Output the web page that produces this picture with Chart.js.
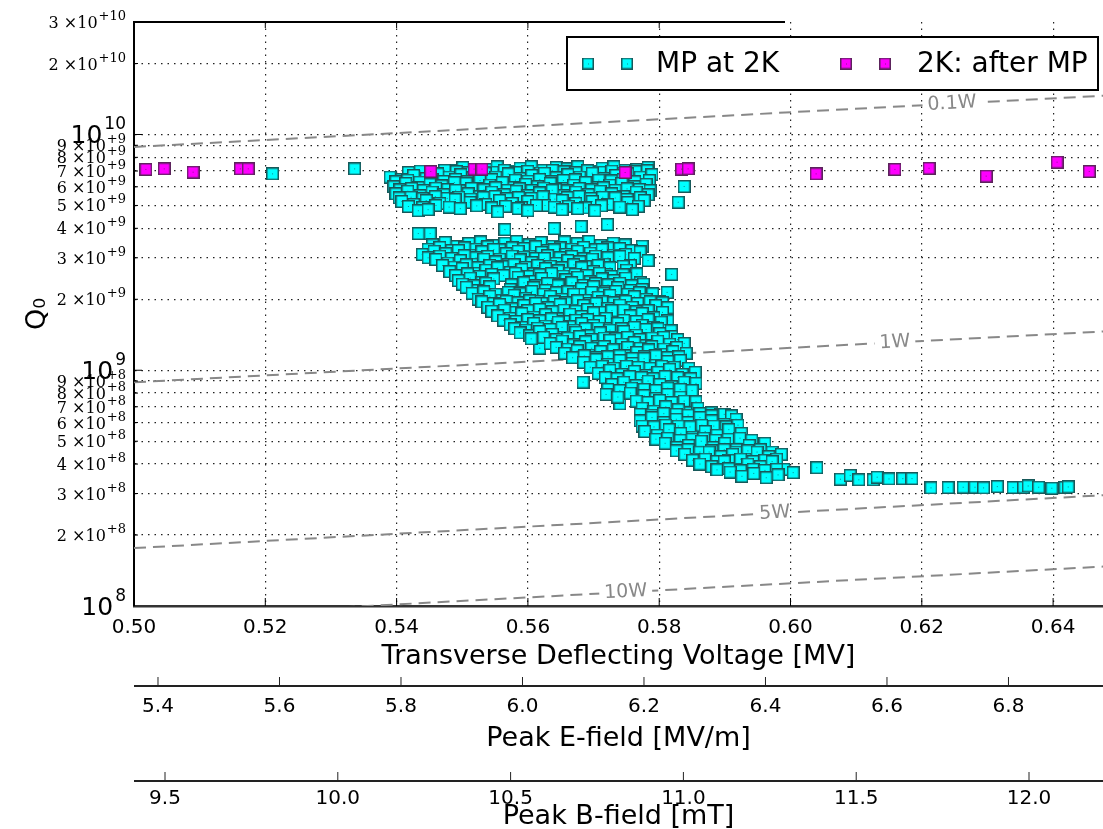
<!DOCTYPE html>
<html>
<head>
<meta charset="utf-8">
<title>Q0 vs transverse deflecting voltage</title>
<script src="https://cdn.jsdelivr.net/npm/chart.js@4.4.1/dist/chart.umd.min.js"></script>
<style>
  html, body { margin: 0; padding: 0; background: #fff; overflow: hidden; }
  #wrap { width: 1103px; height: 829px; }
  canvas { display: block; }
</style>
</head>
<body>
<div id="wrap"><canvas id="q0Chart" width="1103" height="829"></canvas></div>
<script>
// ---- axes ----
const voltageTicks = [0.50, 0.52, 0.54, 0.56, 0.58, 0.60, 0.62, 0.64];
const eFieldTicks = [5.4, 5.6, 5.8, 6.0, 6.2, 6.4, 6.6, 6.8];
const bFieldTicks = [9.5, 10.0, 10.5, 11.0, 11.5, 12.0];
const q0Ticks = [1e8, 2e8, 3e8, 4e8, 5e8, 6e8, 7e8, 8e8, 9e8,
                 1e9, 2e9, 3e9, 4e9, 5e9, 6e9, 7e9, 8e9, 9e9,
                 1e10, 2e10, 3e10];
const voltageRange = [0.50, 0.6476];
const eFieldRange = [5.3605, 6.9556];
const bFieldRange = [9.4103, 12.2141];
const q0Range = [1e8, 3e10];

// ---- constant dissipated power lines ----
const powerLabels = ['0.1W', '1W', '5W', '10W'];
const powerLineV = [0.50, 0.6476];
const powerLineQ = [[8.85e9, 1.46e10], [8.89e8, 1.46e9], [1.76e8, 2.95e8], [8.85e7, 1.47e8]];
const powerLabelV = [0.6246, 0.6159, 0.5976, 0.5749];

// ---- measurements: [voltage MV, Q0 / 1e9] ----
const afterMP = [
  [0.5018, 7.11], [0.5046, 7.15], [0.5090, 6.92], [0.5162, 7.15], [0.5174, 7.15],
  [0.5452, 6.97], [0.5518, 7.13], [0.5530, 7.13], [0.5748, 6.90], [0.5834, 7.13],
  [0.5844, 7.15], [0.6039, 6.81], [0.6159, 7.11], [0.6211, 7.19], [0.6298, 6.66],
  [0.6406, 7.63], [0.6455, 6.97]
];

const mpUpperBand = [
  [0.5484,7.05],[0.5501,7.25],[0.5536,7.10],[0.5553,7.30],[0.5571,7.00],[0.5588,7.20],[0.5605,7.30],[0.5623,7.05],
  [0.5643,7.25],[0.5660,7.15],[0.5676,7.30],[0.5695,7.00],[0.5713,7.20],[0.5731,7.30],[0.5748,7.05],[0.5766,7.10],[0.5783,7.25],
  [0.5418,6.90],[0.5436,7.00],[0.5455,6.85],[0.5473,7.05],[0.5491,6.95],[0.5509,6.88],[0.5527,7.02],[0.5546,6.92],
  [0.5564,7.05],[0.5582,6.90],[0.5600,6.98],[0.5619,6.86],[0.5637,7.04],[0.5655,6.94],[0.5673,6.88],[0.5691,7.02],
  [0.5710,6.92],[0.5728,7.00],[0.5746,6.86],[0.5764,6.96],[0.5782,7.02],
  [0.5390,6.60],[0.5408,6.45],[0.5426,6.70],[0.5445,6.50],[0.5463,6.80],[0.5480,6.60],[0.5498,6.75],[0.5516,6.55],
  [0.5535,6.85],[0.5551,6.60],[0.5570,6.80],[0.5588,6.50],[0.5606,6.70],[0.5625,6.85],[0.5643,6.55],[0.5661,6.75],
  [0.5679,6.60],[0.5698,6.85],[0.5716,6.50],[0.5734,6.70],[0.5752,6.80],[0.5771,6.60],[0.5789,6.75],
  [0.5399,6.30],[0.5417,6.40],[0.5435,6.28],[0.5454,6.42],[0.5472,6.32],[0.5490,6.45],[0.5508,6.30],[0.5527,6.38],
  [0.5545,6.44],[0.5563,6.28],[0.5581,6.40],[0.5600,6.34],[0.5618,6.45],[0.5636,6.30],[0.5654,6.38],[0.5672,6.42],
  [0.5690,6.28],[0.5708,6.40],[0.5727,6.35],[0.5745,6.44],[0.5763,6.30],[0.5785,6.38],
  [0.5396,6.00],[0.5414,6.20],[0.5433,5.95],[0.5451,6.15],[0.5469,6.05],[0.5488,6.25],[0.5506,6.20],[0.5524,5.90],
  [0.5542,6.10],[0.5561,6.25],[0.5579,5.95],[0.5597,6.15],[0.5615,6.00],[0.5634,6.20],[0.5652,5.90],[0.5670,6.10],
  [0.5688,6.25],[0.5707,5.95],[0.5725,6.10],[0.5743,6.20],[0.5762,6.00],[0.5780,6.15],
  [0.5405,5.82],[0.5423,5.90],[0.5441,5.78],[0.5460,5.92],[0.5478,5.84],[0.5496,5.76],[0.5514,5.90],[0.5533,5.82],
  [0.5551,5.94],[0.5569,5.80],[0.5587,5.88],[0.5606,5.78],[0.5624,5.92],[0.5642,5.84],[0.5660,5.76],[0.5678,5.90],
  [0.5697,5.82],[0.5715,5.94],[0.5733,5.80],[0.5751,5.88],[0.5770,5.84],[0.5786,5.78],
  [0.5399,5.60],[0.5417,5.75],[0.5436,5.50],[0.5454,5.70],[0.5472,5.55],[0.5490,5.80],[0.5509,5.60],[0.5527,5.45],
  [0.5545,5.70],[0.5564,5.55],[0.5582,5.75],[0.5600,5.50],[0.5618,5.65],[0.5637,5.80],[0.5655,5.50],[0.5673,5.70],
  [0.5692,5.55],[0.5710,5.75],[0.5728,5.60],[0.5746,5.45],[0.5765,5.70],[0.5783,5.55],
  [0.5404,5.38],[0.5422,5.42],[0.5440,5.34],[0.5459,5.45],[0.5477,5.36],[0.5495,5.42],[0.5513,5.32],[0.5532,5.40],
  [0.5550,5.46],[0.5568,5.34],[0.5586,5.40],[0.5605,5.36],[0.5623,5.44],[0.5641,5.32],[0.5660,5.40],[0.5678,5.46],
  [0.5696,5.35],[0.5714,5.42],[0.5733,5.38],[0.5751,5.30],[0.5771,5.40],
  [0.5408,5.20],[0.5426,5.05],[0.5445,5.25],[0.5466,5.10],[0.5489,5.30],[0.5512,5.15],[0.5536,5.05],[0.5557,5.25],
  [0.5576,5.10],[0.5600,5.20],[0.5626,5.00],[0.5652,5.25],[0.5673,5.10],[0.5698,5.20],[0.5722,5.05],[0.5752,5.15],[0.5777,5.25],
  [0.5418,4.95],[0.5440,4.90],[0.5460,5.00],[0.5480,4.92],[0.5522,4.98],[0.5545,4.88],[0.5566,4.96],[0.5590,4.90],
  [0.5613,5.00],[0.5640,4.92],[0.5662,4.96],[0.5688,4.88],[0.5712,4.98],[0.5740,4.92],[0.5768,4.96],
  [0.5433,4.75],[0.5448,4.80],[0.5497,4.85],[0.5554,4.70],[0.5585,4.85],[0.5600,4.75],[0.5652,4.80],[0.5676,4.85],
  [0.5702,4.75],[0.5759,4.80]
];

const mpStray = [
  [0.5211,6.81],[0.5336,7.15],[0.5838,6.02],[0.5829,5.16],[0.5433,3.80],[0.5451,3.80],[0.5565,3.95],
  [0.5640,3.99],[0.5681,4.07],[0.5721,4.15],[0.5756,3.02],[0.5618,1.24],[0.5684,0.89],[0.5740,0.72]
];

const mpLowerBand = [
  [0.5455,3.40],[0.5474,3.48],[0.5492,3.35],[0.5510,3.45],[0.5528,3.50],[0.5547,3.38],[0.5565,3.46],[0.5583,3.52],
  [0.5602,3.40],[0.5620,3.48],[0.5638,3.36],[0.5656,3.50],[0.5675,3.44],[0.5693,3.52],[0.5711,3.38],[0.5730,3.46],
  [0.5748,3.40],[0.5774,3.36],
  [0.5448,3.26],[0.5466,3.32],[0.5484,3.22],[0.5503,3.30],[0.5521,3.26],[0.5539,3.34],[0.5557,3.24],[0.5576,3.30],
  [0.5594,3.28],[0.5612,3.34],[0.5630,3.22],[0.5649,3.30],[0.5667,3.26],[0.5685,3.32],[0.5703,3.24],[0.5722,3.30],
  [0.5740,3.28],[0.5758,3.22],
  [0.5439,3.10],[0.5457,3.20],[0.5475,3.12],[0.5494,3.22],[0.5512,3.08],[0.5530,3.18],[0.5548,3.25],[0.5567,3.12],
  [0.5585,3.20],[0.5603,3.05],[0.5621,3.16],[0.5640,3.24],[0.5658,3.10],[0.5676,3.20],[0.5695,3.14],[0.5713,3.25],
  [0.5731,3.08],[0.5749,3.10],[0.5771,3.18],
  [0.5448,3.00],[0.5466,3.05],[0.5484,2.98],[0.5503,3.06],[0.5521,3.00],[0.5539,3.04],[0.5557,2.96],[0.5576,3.05],
  [0.5594,3.02],[0.5612,2.98],[0.5630,3.06],[0.5649,3.00],[0.5667,3.04],[0.5685,2.97],[0.5703,3.05],[0.5722,3.00],
  [0.5740,3.04],[0.5762,2.98],
  [0.5460,2.95],[0.5478,2.85],[0.5497,2.92],[0.5515,2.82],[0.5533,2.96],[0.5551,2.88],[0.5570,2.80],[0.5588,2.94],
  [0.5606,2.86],[0.5625,2.98],[0.5643,2.84],[0.5661,2.92],[0.5679,2.88],[0.5698,2.96],[0.5716,2.82],[0.5756,2.78],[0.5783,2.92],
  [0.5470,2.78],[0.5488,2.74],[0.5506,2.80],[0.5524,2.72],[0.5542,2.78],[0.5561,2.75],[0.5579,2.80],[0.5597,2.73],
  [0.5615,2.78],[0.5634,2.76],[0.5652,2.72],[0.5670,2.80],[0.5688,2.75],[0.5707,2.78],[0.5725,2.72],[0.5745,2.76],
  [0.5481,2.62],[0.5500,2.70],[0.5518,2.58],[0.5536,2.66],[0.5554,2.72],[0.5573,2.60],[0.5591,2.68],[0.5609,2.56],
  [0.5627,2.70],[0.5646,2.64],[0.5664,2.58],[0.5682,2.72],[0.5700,2.62],[0.5720,2.55],[0.5750,2.66],[0.5819,2.55],
  [0.5490,2.52],[0.5508,2.56],[0.5527,2.50],[0.5545,2.55],[0.5563,2.52],[0.5581,2.58],[0.5600,2.50],[0.5618,2.54],
  [0.5636,2.57],[0.5654,2.51],[0.5672,2.55],[0.5690,2.52],[0.5709,2.58],[0.5727,2.50],[0.5745,2.54],[0.5766,2.56],
  [0.5494,2.40],[0.5512,2.46],[0.5530,2.36],[0.5548,2.44],[0.5585,2.48],[0.5603,2.38],[0.5621,2.45],[0.5640,2.34],
  [0.5658,2.42],[0.5676,2.48],[0.5695,2.37],[0.5713,2.44],[0.5731,2.40],[0.5749,2.46],[0.5771,2.35],
  [0.5500,2.32],[0.5518,2.28],[0.5536,2.34],[0.5575,2.30],[0.5594,2.35],[0.5612,2.28],[0.5630,2.33],[0.5649,2.30],
  [0.5667,2.35],[0.5685,2.29],[0.5703,2.33],[0.5722,2.30],[0.5740,2.34],[0.5758,2.28],[0.5776,2.32],
  [0.5506,2.25],[0.5524,2.18],[0.5542,2.26],[0.5573,2.20],[0.5591,2.14],[0.5609,2.24],[0.5627,2.18],[0.5646,2.28],
  [0.5664,2.16],[0.5682,2.22],[0.5700,2.26],[0.5719,2.15],[0.5737,2.24],[0.5756,2.18],[0.5774,2.20],[0.5812,2.14],
  [0.5515,2.12],[0.5533,2.15],[0.5551,2.10],[0.5570,2.14],[0.5588,2.11],[0.5606,2.16],[0.5624,2.10],[0.5643,2.13],
  [0.5661,2.15],[0.5679,2.10],[0.5697,2.14],[0.5716,2.12],[0.5734,2.16],[0.5752,2.10],[0.5770,2.13],[0.5790,2.11],
  [0.5524,2.00],[0.5542,2.06],[0.5561,1.98],[0.5579,2.08],[0.5597,2.02],[0.5615,1.96],[0.5634,2.06],[0.5652,2.00],
  [0.5670,2.10],[0.5688,1.98],[0.5707,2.04],[0.5725,2.08],[0.5743,1.97],[0.5762,2.05],[0.5780,2.00],[0.5801,1.95],
  [0.5530,1.95],[0.5548,1.92],[0.5567,1.96],[0.5585,1.93],[0.5603,1.97],[0.5621,1.92],[0.5640,1.95],[0.5658,1.93],
  [0.5676,1.97],[0.5694,1.92],[0.5713,1.95],[0.5731,1.93],[0.5749,1.96],[0.5767,1.92],[0.5786,1.95],[0.5805,1.93],
  [0.5539,1.85],[0.5557,1.90],[0.5576,1.82],[0.5594,1.88],[0.5612,1.92],[0.5631,1.84],[0.5649,1.90],[0.5667,1.80],
  [0.5685,1.88],[0.5704,1.92],[0.5722,1.83],[0.5740,1.89],[0.5759,1.85],[0.5777,1.80],[0.5795,1.88],[0.5813,1.84],
  [0.5545,1.78],[0.5564,1.80],[0.5582,1.76],[0.5600,1.79],[0.5618,1.81],[0.5637,1.77],[0.5655,1.80],[0.5673,1.78],
  [0.5691,1.81],[0.5710,1.76],[0.5728,1.79],[0.5746,1.80],[0.5765,1.77],[0.5783,1.79],[0.5805,1.76],
  [0.5554,1.70],[0.5573,1.66],[0.5591,1.74],[0.5609,1.68],[0.5627,1.72],[0.5646,1.65],[0.5664,1.73],[0.5682,1.69],
  [0.5700,1.75],[0.5719,1.66],[0.5756,1.70],[0.5774,1.74],[0.5792,1.67],[0.5813,1.62],
  [0.5563,1.63],[0.5582,1.61],[0.5600,1.64],[0.5618,1.62],[0.5636,1.65],[0.5655,1.61],[0.5673,1.63],[0.5691,1.64],
  [0.5709,1.61],[0.5746,1.63],[0.5765,1.61],[0.5783,1.64],[0.5803,1.60],
  [0.5573,1.56],[0.5591,1.52],[0.5609,1.58],[0.5627,1.54],[0.5646,1.60],[0.5664,1.53],[0.5682,1.58],[0.5700,1.55],
  [0.5719,1.50],[0.5737,1.58],[0.5774,1.55],[0.5792,1.52],[0.5813,1.48],
  [0.5580,1.50],[0.5597,1.48],[0.5615,1.51],[0.5634,1.49],[0.5652,1.52],[0.5670,1.48],[0.5688,1.50],[0.5707,1.51],
  [0.5725,1.48],[0.5743,1.50],[0.5762,1.52],[0.5780,1.49],[0.5798,1.50],[0.5818,1.47],
  [0.5588,1.44],[0.5603,1.40],[0.5618,1.46],[0.5637,1.42],[0.5655,1.38],[0.5673,1.45],[0.5692,1.40],[0.5710,1.44],
  [0.5728,1.38],[0.5746,1.46],[0.5765,1.41],[0.5783,1.36],[0.5801,1.43],[0.5819,1.39],
  [0.5605,1.36],[0.5624,1.38],[0.5643,1.35],[0.5661,1.37],[0.5679,1.39],[0.5697,1.35],[0.5716,1.37],[0.5734,1.36],
  [0.5752,1.38],[0.5771,1.35],[0.5789,1.37],[0.5807,1.38],[0.5828,1.35],
  [0.5634,1.30],[0.5652,1.33],[0.5670,1.28],[0.5688,1.32],[0.5707,1.26],[0.5725,1.34],[0.5743,1.29],[0.5762,1.31],
  [0.5780,1.27],[0.5798,1.33],[0.5816,1.29],[0.5838,1.30],
  [0.5643,1.25],[0.5661,1.23],[0.5679,1.26],[0.5697,1.24],[0.5716,1.26],[0.5734,1.23],[0.5752,1.25],[0.5771,1.24],
  [0.5789,1.26],[0.5807,1.23],[0.5827,1.25],
  [0.5656,1.18],[0.5675,1.21],[0.5693,1.16],[0.5711,1.20],[0.5730,1.22],[0.5748,1.15],[0.5766,1.19],[0.5784,1.22],
  [0.5803,1.17],[0.5821,1.20],[0.5841,1.18],
  [0.5668,1.13],[0.5686,1.15],[0.5704,1.13],[0.5722,1.14],[0.5740,1.15],[0.5759,1.12],[0.5777,1.14],[0.5795,1.15],
  [0.5813,1.13],[0.5830,1.14],
  [0.5685,1.08],[0.5704,1.11],[0.5722,1.06],[0.5740,1.10],[0.5759,1.07],[0.5777,1.12],[0.5795,1.05],[0.5813,1.09],[0.5832,1.10],
  [0.5695,1.03],[0.5713,1.04],[0.5731,1.02],[0.5750,1.04],[0.5768,1.03],[0.5786,1.02],[0.5804,1.04],[0.5823,1.03],[0.5845,1.02],
  [0.5707,0.97],[0.5725,1.00],[0.5743,0.96],[0.5762,0.99],[0.5780,0.95],[0.5798,0.98],[0.5816,1.01],[0.5835,0.96],[0.5855,0.98],
  [0.5718,0.93],[0.5736,0.92],[0.5755,0.94],[0.5773,0.93],[0.5791,0.92],[0.5809,0.94],[0.5828,0.93],[0.5848,0.92],
  [0.5728,0.87],[0.5746,0.89],[0.5765,0.86],[0.5783,0.90],[0.5801,0.87],[0.5819,0.85],[0.5838,0.89],[0.5856,0.88],
  [0.5722,0.83],[0.5740,0.82],[0.5758,0.84],[0.5777,0.83],[0.5795,0.82],[0.5813,0.84],[0.5832,0.83],[0.5850,0.82],
  [0.5719,0.79],[0.5737,0.77],[0.5756,0.80],[0.5777,0.78],[0.5795,0.76],[0.5813,0.79],[0.5832,0.77],
  [0.5765,0.74],[0.5783,0.73],[0.5801,0.745],[0.5819,0.73],[0.5838,0.74],[0.5856,0.735],
  [0.5774,0.69],[0.5792,0.67],[0.5810,0.70],[0.5829,0.68],[0.5847,0.66],[0.5859,0.69],[0.5880,0.66],[0.5893,0.65],
  [0.5771,0.65],[0.5789,0.645],[0.5807,0.655],[0.5826,0.65],[0.5844,0.645],[0.5862,0.655],[0.5880,0.64],[0.5899,0.65],[0.5910,0.64],
  [0.5771,0.61],[0.5789,0.63],[0.5807,0.60],[0.5826,0.62],[0.5844,0.60],[0.5862,0.63],[0.5880,0.61],[0.5899,0.59],[0.5917,0.62],
  [0.5774,0.58],[0.5792,0.575],[0.5810,0.585],[0.5829,0.58],[0.5847,0.575],[0.5865,0.585],[0.5883,0.58],[0.5902,0.575],[0.5920,0.585],
  [0.5778,0.55],[0.5797,0.53],[0.5815,0.56],[0.5833,0.54],[0.5851,0.52],[0.5870,0.55],[0.5888,0.53],[0.5906,0.56],[0.5925,0.54],
  [0.5795,0.51],[0.5813,0.515],[0.5832,0.505],[0.5850,0.51],[0.5868,0.515],[0.5886,0.505],[0.5905,0.51],[0.5923,0.515],[0.5941,0.505],
  [0.5809,0.49],[0.5827,0.47],[0.5845,0.48],[0.5864,0.50],[0.5882,0.47],[0.5900,0.49],[0.5918,0.46],[0.5937,0.48],[0.5961,0.49],
  [0.5826,0.455],[0.5844,0.46],[0.5862,0.45],[0.5880,0.455],[0.5899,0.46],[0.5917,0.45],[0.5935,0.455],[0.5954,0.46],[0.5972,0.45],
  [0.5839,0.44],[0.5858,0.42],[0.5876,0.45],[0.5894,0.43],[0.5912,0.44],[0.5931,0.42],[0.5949,0.45],[0.5967,0.43],[0.5986,0.44],
  [0.5851,0.415],[0.5870,0.42],[0.5888,0.41],[0.5906,0.415],[0.5924,0.42],[0.5943,0.41],[0.5961,0.415],[0.5979,0.42],
  [0.5862,0.40],[0.5880,0.39],[0.5899,0.41],[0.5917,0.38],[0.5935,0.40],[0.5954,0.39],[0.5972,0.41],[0.5990,0.38],
  [0.5888,0.378],[0.5906,0.382],[0.5924,0.375],[0.5943,0.38],[0.5961,0.376],[0.5979,0.38],
  [0.5908,0.37],[0.5926,0.355],[0.5944,0.365],[0.5963,0.35],[0.5981,0.36]
];

const mpTail = [
  [0.6004,0.368],[0.6040,0.386],[0.6076,0.345],[0.6091,0.358],[0.6104,0.343],[0.6126,0.343],[0.6132,0.352],
  [0.6150,0.346],[0.6171,0.347],[0.6185,0.347],[0.6214,0.317],[0.6240,0.318],[0.6263,0.319],[0.6281,0.319],
  [0.6294,0.317],[0.6315,0.321],[0.6339,0.318],[0.6355,0.319],[0.6362,0.323],[0.6378,0.319],[0.6398,0.316],
  [0.6418,0.318],[0.6423,0.320]
];

// ---- styling helpers ----
const SANS = '"DejaVu Sans", sans-serif';
const SERIF = '"DejaVu Serif", serif';

function makeMarker(size, fill, edge) {
  const c = document.createElement('canvas');
  c.width = size;
  c.height = size;
  const g = c.getContext('2d');
  g.fillStyle = fill;
  g.fillRect(0, 0, size, size);
  g.strokeStyle = edge;
  g.lineWidth = 1.5;
  g.strokeRect(0.75, 0.75, size - 1.5, size - 1.5);
  g.globalAlpha = 0.7;
  g.fillStyle = edge;
  g.fillRect(Math.floor(size / 2), Math.floor(size / 2), 1, 1);
  return c;
}

const cyanMarker = makeMarker(13, '#00ffff', '#17595a');
const magentaMarker = makeMarker(13, '#ff00ff', '#5c235c');
const cyanLegend = makeMarker(12, '#00ffff', '#17595a');
const magentaLegend = makeMarker(12, '#ff00ff', '#5c235c');

const toXY = pairs => pairs.map(([v, q]) => ({ x: v, y: q * 1e9 }));
const fixedTicks = list => scale => { scale.ticks = list.map(v => ({ value: v })); };
const fixHeight = h => s => { s.height = h; s.paddingLeft = 0; s.paddingRight = 0; };

function powerLabelGeometry(chart, i) {
  const xs = chart.scales.x, ys = chart.scales.y;
  const [q0, q1] = powerLineQ[i];
  const [v0, v1] = powerLineV;
  const t = (powerLabelV[i] - v0) / (v1 - v0);
  const q = Math.pow(10, Math.log10(q0) + t * (Math.log10(q1) - Math.log10(q0)));
  const ang = Math.atan2(ys.getPixelForValue(q1) - ys.getPixelForValue(q0),
                         xs.getPixelForValue(v1) - xs.getPixelForValue(v0));
  return { x: xs.getPixelForValue(powerLabelV[i]), y: ys.getPixelForValue(q), ang };
}

const POWER_FONT = '19px ' + SANS;

// Extras: line gaps + labels for power lines, inward ticks,
// sci-notation y labels, secondary axis lines and the boxed legend.
const decorations = {
  id: 'decorations',
  beforeDatasetDraw(chart, args) {
    const ds = chart.data.datasets[args.index];
    if (ds.powerIndex === undefined) return;
    const ctx = chart.ctx;
    const g = powerLabelGeometry(chart, ds.powerIndex);
    ctx.save();
    ctx.font = POWER_FONT;
    const hw = ctx.measureText(powerLabels[ds.powerIndex]).width / 2 + 5;
    const hh = 10;
    const c = Math.cos(g.ang), s = Math.sin(g.ang);
    const pts = [[-hw, -hh], [hw, -hh], [hw, hh], [-hw, hh]]
      .map(([a, b]) => [g.x + a * c - b * s, g.y + a * s + b * c]);
    ctx.beginPath();
    ctx.rect(0, 0, chart.width, chart.height);
    ctx.moveTo(pts[0][0], pts[0][1]);
    pts.slice(1).forEach(p => ctx.lineTo(p[0], p[1]));
    ctx.closePath();
    ctx.clip('evenodd');
  },
  afterDatasetDraw(chart, args) {
    const ds = chart.data.datasets[args.index];
    if (ds.powerIndex === undefined) return;
    const ctx = chart.ctx;
    ctx.restore();
    const g = powerLabelGeometry(chart, ds.powerIndex);
    ctx.save();
    ctx.translate(g.x, g.y);
    ctx.rotate(g.ang);
    ctx.font = POWER_FONT;
    ctx.fillStyle = '#888888';
    ctx.textAlign = 'center';
    ctx.textBaseline = 'middle';
    ctx.fillText(powerLabels[ds.powerIndex], 0, 0);
    ctx.restore();
  },
  afterDraw(chart) {
    const ctx = chart.ctx;
    const area = chart.chartArea;
    const xs = chart.scales.x, ys = chart.scales.y;
    ctx.save();

    // top spine (the picture shows it only on the left part)
    ctx.strokeStyle = '#000';
    ctx.lineWidth = 2;
    ctx.beginPath();
    ctx.moveTo(area.left, area.top);
    ctx.lineTo(area.left + 651, area.top);
    ctx.stroke();

    // inward ticks
    ctx.lineWidth = 1;
    ys.ticks.forEach(t => {
      if (t.value <= q0Range[0] || t.value >= q0Range[1]) return;
      const y = ys.getPixelForValue(t.value);
      const major = Math.abs(Math.log10(t.value) % 1) < 1e-9;
      ctx.beginPath();
      ctx.moveTo(area.left, y);
      ctx.lineTo(area.left + (major ? 8 : 4), y);
      ctx.stroke();
    });
    xs.ticks.forEach(t => {
      if (t.value <= voltageRange[0]) return;
      const x = xs.getPixelForValue(t.value);
      ctx.beginPath();
      ctx.moveTo(x, area.bottom);
      ctx.lineTo(x, area.bottom - 8);
      if (x < area.left + 651) {
        ctx.moveTo(x, area.top);
        ctx.lineTo(x, area.top + 6);
      }
      ctx.stroke();
    });

    // y tick labels: 10^n for decades, m x10^+n otherwise
    const xr = area.left - 8;
    ctx.fillStyle = '#000';
    ctx.textAlign = 'left';
    ctx.textBaseline = 'alphabetic';
    ys.ticks.forEach(t => {
      const v = t.value;
      const e = Math.floor(Math.log10(v) + 1e-9);
      const m = Math.round(v / Math.pow(10, e));
      const y = ys.getPixelForValue(v);
      if (m === 1) {
        ctx.font = '17px ' + SANS;
        const ew = ctx.measureText(String(e)).width;
        ctx.fillText(String(e), xr - ew, y - 5);
        ctx.font = '25px ' + SANS;
        const bw = ctx.measureText('10').width;
        ctx.fillText('10', xr - ew - 2 - bw, y + 9);
      } else {
        const sup = '+' + e;
        ctx.font = '13px ' + SERIF;
        const sw = ctx.measureText(sup).width;
        ctx.fillText(sup, xr - sw, y - 2);
        const main = m + ' \u00d710';
        ctx.font = '16px ' + SERIF;
        const mw = ctx.measureText(main).width;
        ctx.fillText(main, xr - sw - 1 - mw, y + 6);
      }
    });

    // secondary axes: line with upward ticks
    [['e', 10], ['b', 9]].forEach(([id, off]) => {
      const s = chart.scales[id];
      const ly = s.top + off;
      ctx.strokeStyle = '#222';
      ctx.lineWidth = 2;
      ctx.beginPath();
      ctx.moveTo(s.left, ly);
      ctx.lineTo(s.right, ly);
      ctx.stroke();
      ctx.lineWidth = 1;
      s.ticks.forEach(t => {
        const px = s.getPixelForValue(t.value);
        ctx.beginPath();
        ctx.moveTo(px, ly - 9);
        ctx.lineTo(px, ly);
        ctx.stroke();
      });
    });

    // legend box
    const lx = area.right - 536, ly = area.top + 15, lw = 531, lh = 53;
    ctx.fillStyle = '#fff';
    ctx.fillRect(lx, ly, lw, lh);
    ctx.strokeStyle = '#000';
    ctx.lineWidth = 2;
    ctx.strokeRect(lx, ly, lw, lh);
    const my = ly + lh / 2;
    const entries = [
      { img: cyanLegend, m1: 21, m2: 60, tx: 89, label: chart.data.datasets[0].label },
      { img: magentaLegend, m1: 279, m2: 318, tx: 350, label: chart.data.datasets[1].label }
    ];
    ctx.font = '28px ' + SANS;
    ctx.textBaseline = 'middle';
    ctx.fillStyle = '#000';
    entries.forEach(en => {
      ctx.drawImage(en.img, lx + en.m1 - 6, my - 6);
      ctx.drawImage(en.img, lx + en.m2 - 6, my - 6);
      ctx.fillText(en.label, lx + en.tx, my + 1);
    });
    ctx.restore();
  }
};

const datasets = [
  {
    label: 'MP at 2K',
    data: toXY([...mpUpperBand, ...mpStray, ...mpLowerBand, ...mpTail]),
    pointStyle: cyanMarker,
    pointRadius: 6,
    order: 1,
    xAxisID: 'x',
    yAxisID: 'y'
  },
  {
    label: '2K: after MP',
    data: toXY(afterMP),
    pointStyle: magentaMarker,
    pointRadius: 6,
    order: 0,
    xAxisID: 'x',
    yAxisID: 'y'
  }
];
powerLabels.forEach((name, i) => {
  datasets.push({
    label: name,
    data: powerLineV.map((v, k) => ({ x: v, y: powerLineQ[i][k] })),
    showLine: true,
    pointRadius: 0,
    borderColor: '#888888',
    borderWidth: 2,
    borderDash: [12, 7],
    order: 2,
    powerIndex: i,
    xAxisID: 'x',
    yAxisID: 'y'
  });
});

const gridDash = [1.5, 5];

new Chart(document.getElementById('q0Chart'), {
  type: 'scatter',
  data: { datasets },
  plugins: [decorations],
  options: {
    responsive: false,
    animation: false,
    events: [],
    layout: { autoPadding: false, padding: { top: 22, right: 0, bottom: 0, left: 0 } },
    plugins: { legend: { display: false }, tooltip: { enabled: false } },
    scales: {
      x: {
        type: 'linear',
        position: 'bottom',
        weight: 0,
        min: voltageRange[0],
        max: voltageRange[1],
        afterBuildTicks: fixedTicks(voltageTicks),
        afterFit: fixHeight(70),
        grid: {
          drawTicks: false,
          lineWidth: 1.2,
          color: c => (c.tick && c.tick.value <= voltageRange[0]) ? 'rgba(0,0,0,0)' : '#222'
        },
        border: { display: true, color: '#333', width: 2.5, dash: gridDash },
        ticks: {
          padding: 10,
          color: '#000',
          font: { family: SANS, size: 20 },
          maxRotation: 0,
          callback: v => v.toFixed(2)
        },
        title: {
          display: true,
          text: 'Transverse Deflecting Voltage [MV]',
          color: '#000',
          font: { family: SANS, size: 27 },
          padding: { top: 0, bottom: 3 }
        }
      },
      e: {
        type: 'linear',
        position: 'bottom',
        weight: 1,
        min: eFieldRange[0],
        max: eFieldRange[1],
        afterBuildTicks: fixedTicks(eFieldTicks),
        afterFit: fixHeight(96),
        grid: { display: false, drawTicks: false },
        border: { display: false },
        ticks: {
          padding: 19,
          color: '#000',
          font: { family: SANS, size: 20 },
          maxRotation: 0,
          callback: v => v.toFixed(1)
        },
        title: {
          display: true,
          text: 'Peak E-field [MV/m]',
          color: '#000',
          font: { family: SANS, size: 27 },
          padding: { top: 0, bottom: 17 }
        }
      },
      b: {
        type: 'linear',
        position: 'bottom',
        weight: 2,
        min: bFieldRange[0],
        max: bFieldRange[1],
        afterBuildTicks: fixedTicks(bFieldTicks),
        afterFit: fixHeight(57),
        grid: { display: false, drawTicks: false },
        border: { display: false },
        ticks: {
          padding: 15,
          color: '#000',
          font: { family: SANS, size: 20 },
          maxRotation: 0,
          callback: v => v.toFixed(1)
        },
        title: {
          display: true,
          text: 'Peak B-field [mT]',
          color: '#000',
          font: { family: SANS, size: 27 },
          padding: { top: 0, bottom: -4 }
        }
      },
      y: {
        type: 'logarithmic',
        position: 'left',
        min: q0Range[0],
        max: q0Range[1],
        afterBuildTicks: fixedTicks(q0Ticks),
        afterFit: s => { s.width = 134; },
        grid: {
          drawTicks: false,
          lineWidth: 1.2,
          color: c => (c.tick && (c.tick.value <= q0Range[0] || c.tick.value >= q0Range[1])) ? 'rgba(0,0,0,0)' : '#222'
        },
        border: { display: true, color: '#000', width: 2, dash: gridDash },
        ticks: { display: false },
        title: {
          display: true,
          text: 'Q\u2080',
          color: '#000',
          font: { family: SANS, size: 27 },
          padding: { top: 22, bottom: 0 }
        }
      }
    }
  }
});
</script>
</body>
</html>
